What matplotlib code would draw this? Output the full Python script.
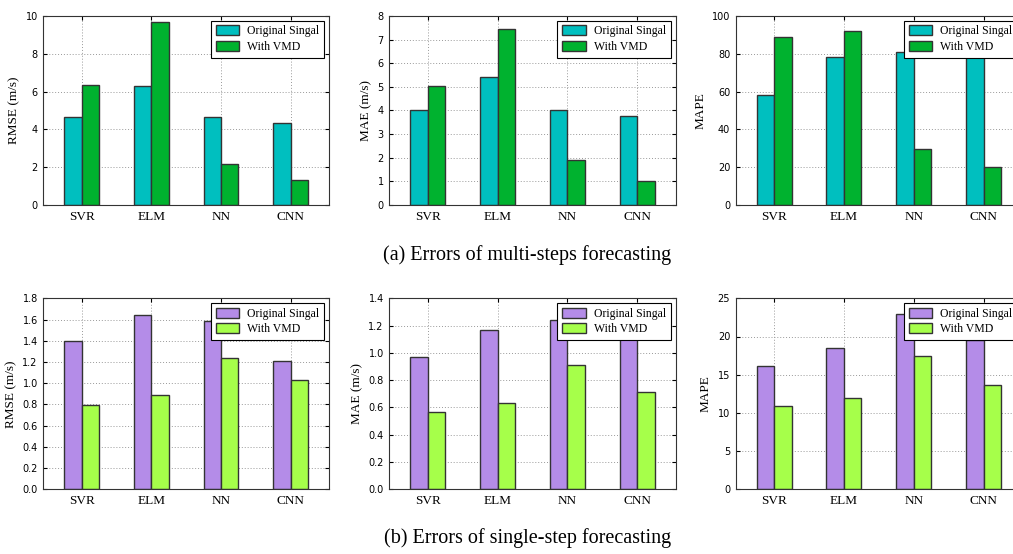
import numpy as np
import matplotlib
matplotlib.use("Agg")
import matplotlib.pyplot as plt

# dane
models = ["SVR", "ELM", "NN", "CNN"]
series = ["Original Singal", "With VMD"]

rmse_multi_orig = [4.67, 6.28, 4.67, 4.35]
rmse_multi_vmd = [6.35, 9.67, 2.19, 1.30]
mae_multi_orig = [4.00, 5.41, 4.02, 3.75]
mae_multi_vmd = [5.03, 7.47, 1.89, 1.02]
mape_multi_orig = [58.1, 78.2, 81.0, 81.0]
mape_multi_vmd = [89.1, 92.1, 29.5, 20.2]

rmse_single_orig = [1.40, 1.64, 1.59, 1.21]
rmse_single_vmd = [0.79, 0.89, 1.24, 1.03]
mae_single_orig = [0.97, 1.17, 1.24, 1.19]
mae_single_vmd = [0.57, 0.63, 0.91, 0.71]
mape_single_orig = [16.2, 18.5, 22.9, 19.5]
mape_single_vmd = [10.9, 11.9, 17.4, 13.6]

captions = ["(a) Errors of multi-steps forecasting", "(b) Errors of single-step forecasting"]

serif = ["Liberation Serif", "DejaVu Serif"]

fig = plt.figure(figsize=(10.13, 5.54), dpi=100)
W, H = 1013.0, 554.0

lefts = [43.3, 389.3, 735.7]
widths = [285.7, 286.3, 286.3]
rows = [(16, 205), (298.3, 489.3)]

panels = [
    [(rmse_multi_orig, rmse_multi_vmd, "RMSE (m/s)", 10, 2),
     (mae_multi_orig, mae_multi_vmd, "MAE (m/s)", 8, 1),
     (mape_multi_orig, mape_multi_vmd, "MAPE", 100, 20)],
    [(rmse_single_orig, rmse_single_vmd, "RMSE (m/s)", 1.8, 0.2),
     (mae_single_orig, mae_single_vmd, "MAE (m/s)", 1.4, 0.2),
     (mape_single_orig, mape_single_vmd, "MAPE", 25, 5)],
]
colors = [("#00bfbf", "#00b22f"), ("#b48ce8", "#a6ff4a")]

x = np.arange(len(models))
w = 0.25

for r, (top, bot) in enumerate(rows):
    for c in range(3):
        orig, vmd, ylab, ymax, step = panels[r][c]
        ax = fig.add_axes([lefts[c] / W, 1 - bot / H, widths[c] / W, (bot - top) / H])
        ax.bar(x - w, orig, w, align="edge", color=colors[r][0],
               edgecolor="#333333", linewidth=1.0, label=series[0], zorder=2)
        ax.bar(x, vmd, w, align="edge", color=colors[r][1],
               edgecolor="#333333", linewidth=1.0, label=series[1], zorder=2)
        ax.set_xlim(-0.55, 3.55)
        ax.set_ylim(0, ymax)
        ax.set_xticks(x)
        ax.set_xticklabels(models, family=serif, fontsize=9.5)
        yt = np.arange(0, ymax + step / 2, step)
        ax.set_yticks(yt)
        if step < 1:
            ax.set_yticklabels(["%.1f" % v for v in yt], fontsize=7)
        else:
            ax.set_yticklabels(["%d" % v for v in yt], fontsize=7)
        ax.set_ylabel(ylab, family=serif, fontsize=9.5)
        ax.grid(True, linestyle=(0, (1, 2)), color="#999999", linewidth=0.7, zorder=0)
        ax.tick_params(direction="in", length=3, top=True, right=True, pad=4)
        for s in ax.spines.values():
            s.set_color("#333333")
        leg = ax.legend(loc="upper right", prop={"family": serif, "size": 8.5},
                        fancybox=False, framealpha=1, borderaxespad=0.4,
                        borderpad=0.4, labelspacing=0.3, handletextpad=0.7,
                        handlelength=2.0, handleheight=0.9)
        leg.get_frame().set_edgecolor("black")
        leg.get_frame().set_linewidth(0.8)

fig.text(527 / W, 1 - 255 / H, captions[0], ha="center", va="center",
         family=serif, fontsize=14.5)
fig.text(528 / W, 1 - 538 / H, captions[1], ha="center", va="center",
         family=serif, fontsize=14.5)

fig.savefig("out.png", dpi=100)
